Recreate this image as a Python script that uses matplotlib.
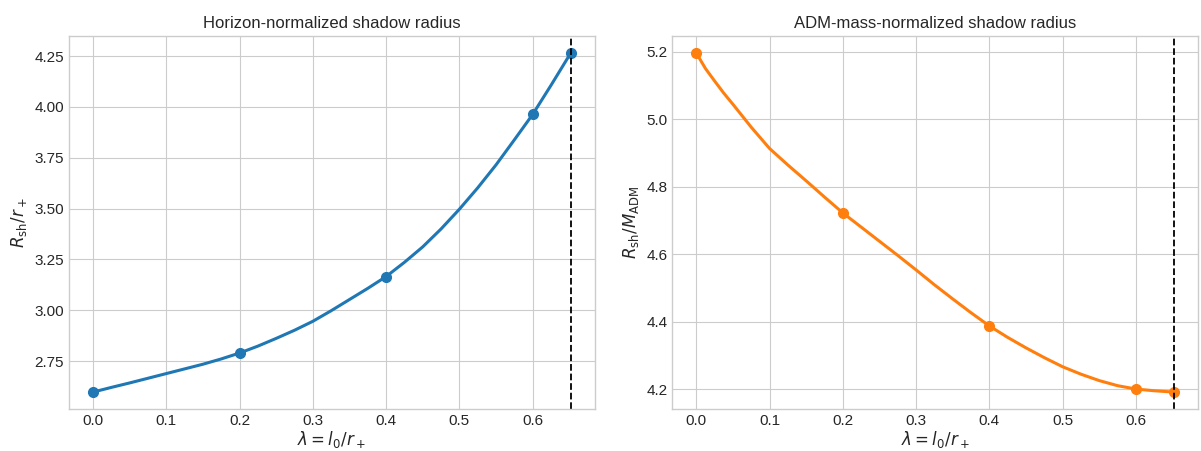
import matplotlib
matplotlib.use("Agg")
import matplotlib.pyplot as plt

# sampled points (markers)
lam_pts = [0.0, 0.2, 0.4, 0.6, 0.652]
rsh_rp_pts = [2.598, 2.790, 3.166, 3.963, 4.265]
rsh_madm_pts = [5.196, 4.722, 4.387, 4.200, 4.191]

# smooth curves
lam_curve_l = [0.0, 0.025, 0.05, 0.075, 0.1, 0.125, 0.15, 0.175, 0.2, 0.225, 0.25, 0.275, 0.3,
               0.325, 0.35, 0.375, 0.4, 0.425, 0.45, 0.475, 0.5, 0.525, 0.55, 0.575, 0.6,
               0.625, 0.652]
rsh_rp_curve = [2.598, 2.621, 2.643, 2.666, 2.689, 2.712, 2.735, 2.761, 2.790, 2.824, 2.862,
                2.902, 2.946, 2.998, 3.053, 3.108, 3.166, 3.236, 3.312, 3.400, 3.497, 3.602,
                3.715, 3.838, 3.963, 4.106, 4.265]

lam_curve_r = [0.0, 0.0125, 0.025, 0.0375, 0.05, 0.075, 0.1, 0.125, 0.15, 0.175, 0.2, 0.225,
               0.25, 0.275, 0.3, 0.325, 0.35, 0.375, 0.4, 0.425, 0.45, 0.475, 0.5, 0.525,
               0.55, 0.575, 0.6, 0.625, 0.652]
rsh_madm_curve = [5.196, 5.150, 5.113, 5.077, 5.044, 4.976, 4.913, 4.864, 4.817, 4.769, 4.722,
                  4.680, 4.638, 4.596, 4.553, 4.509, 4.467, 4.426, 4.387, 4.353, 4.322, 4.293,
                  4.266, 4.244, 4.225, 4.210, 4.200, 4.195, 4.191]

lam_max = 0.652

plt.style.use("seaborn-v0_8-whitegrid")

fig, (ax1, ax2) = plt.subplots(1, 2, figsize=(12.01, 4.51), dpi=100)
fig.subplots_adjust(left=0.0575, right=0.9975, bottom=0.093, top=0.92, wspace=0.148)

ax1.plot(lam_curve_l, rsh_rp_curve, color="C0", lw=2.2)
ax1.plot(lam_pts, rsh_rp_pts, "o", color="C0", ms=7)
ax1.axvline(lam_max, color="k", ls="--", lw=1.3)
ax1.set_xlabel(r"$\lambda = l_0/r_+$", fontsize=12, labelpad=1)
ax1.set_ylabel(r"$R_{\mathrm{sh}}/r_+$", fontsize=12)
ax1.set_title("Horizon-normalized shadow radius", fontsize=12)

ax2.plot(lam_curve_r, rsh_madm_curve, color="C1", lw=2.2)
ax2.plot(lam_pts, rsh_madm_pts, "o", color="C1", ms=7)
ax2.axvline(lam_max, color="k", ls="--", lw=1.3)
ax2.set_xlabel(r"$\lambda = l_0/r_+$", fontsize=12, labelpad=1)
ax2.set_ylabel(r"$R_{\mathrm{sh}}/M_{\mathrm{ADM}}$", fontsize=12)
ax2.set_title("ADM-mass-normalized shadow radius", fontsize=12)

for ax in (ax1, ax2):
    ax.tick_params(labelsize=11)
    for s in ax.spines.values():
        s.set_visible(True)

plt.savefig("out.png", dpi=100)
